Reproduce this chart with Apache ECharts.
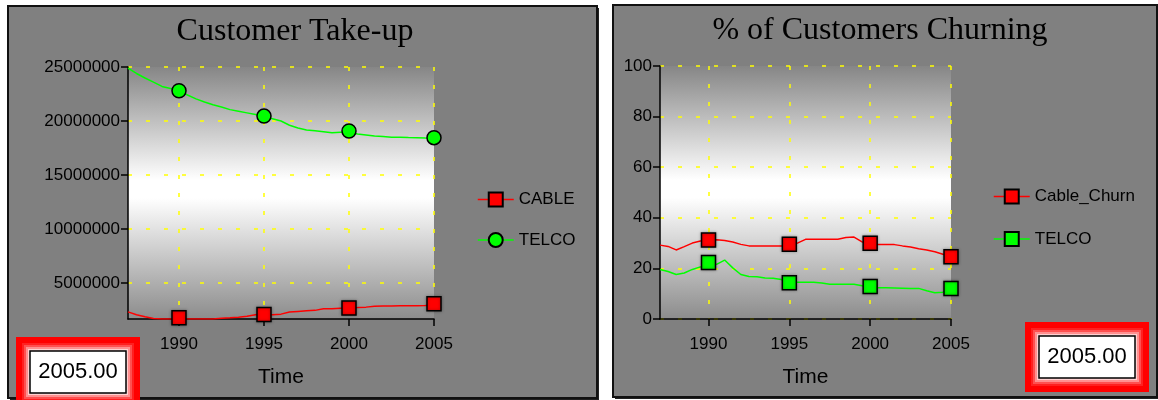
<!DOCTYPE html>
<html>
<head>
<meta charset="utf-8">
<script src="https://cdn.jsdelivr.net/npm/echarts@6/dist/echarts.min.js"></script>
<style>
  html, body { margin: 0; padding: 0; background: #ffffff; }
  #wrap { position: relative; width: 1158px; height: 400px; overflow: hidden; }
  #left { position: absolute; left: 0; top: 0; width: 605px; height: 400px; }
  #right { position: absolute; left: 605px; top: 0; width: 553px; height: 400px; }
</style>
</head>
<body>
<div id="wrap">
  <div id="left"></div>
  <div id="right"></div>
</div>
<script>
// time axis (half years) used by the continuous lines
var halfYears = [1987, 1987.5, 1988, 1988.5, 1989, 1989.5, 1990, 1990.5, 1991, 1991.5,
  1992, 1992.5, 1993, 1993.5, 1994, 1994.5, 1995, 1995.5, 1996, 1996.5,
  1997, 1997.5, 1998, 1998.5, 1999, 1999.5, 2000, 2000.5, 2001, 2001.5,
  2002, 2002.5, 2003, 2003.5, 2004, 2004.5, 2005];
var markerYears = [1990, 1995, 2000, 2005];
var yearTicks = [1990, 1995, 2000, 2005];

// Customer Take-up (customers)
var takeupCableLine = [2310000, 2040000, 1850000, 1700000, 1650000, 1650000, 1650000, 1650000, 1650000, 1650000,
  1650000, 1720000, 1760000, 1820000, 1900000, 2040000, 2080000, 2040000, 2100000, 2290000,
  2350000, 2410000, 2450000, 2590000, 2600000, 2650000, 2700000, 2710000, 2750000, 2840000,
  2850000, 2860000, 2870000, 2870000, 2880000, 2900000, 2950000];
var takeupTelcoLine = [24900000, 24400000, 23980000, 23600000, 23200000, 23000000, 22750000, 22400000, 22050000, 21750000,
  21500000, 21300000, 21050000, 20900000, 20750000, 20600000, 20400000, 20200000, 20000000, 19600000,
  19350000, 19170000, 19100000, 19000000, 18900000, 18950000, 18950000, 18800000, 18700000, 18600000,
  18550000, 18500000, 18480000, 18460000, 18450000, 18420000, 18400000];
var takeupCableMarks = [1760000, 2060000, 2660000, 3070000];
var takeupTelcoMarks = [22800000, 20450000, 19070000, 18450000];
var takeupTicks = [5000000, 10000000, 15000000, 20000000, 25000000];

// % of Customers Churning
var churnCableLine = [29.2, 28.7, 27.3, 28.6, 30.0, 30.8, 30.8, 31.3, 31.0, 30.4,
  29.5, 28.9, 28.9, 28.9, 28.9, 28.9, 28.9, 30.0, 31.5, 31.5,
  31.5, 31.5, 31.5, 32.2, 32.4, 30.5, 29.4, 29.4, 29.4, 29.4,
  28.9, 28.5, 27.8, 27.3, 26.6, 25.6, 24.8];
var churnTelcoLine = [19.6, 18.8, 17.6, 18.2, 19.6, 20.6, 21.0, 21.6, 23.3, 20.2,
  17.6, 16.8, 16.7, 16.2, 16.1, 15.6, 14.5, 14.5, 14.5, 14.5,
  14.2, 13.7, 13.7, 13.7, 13.7, 13.1, 12.4, 12.4, 12.4, 12.3,
  12.2, 12.1, 12.1, 11.2, 10.4, 10.6, 12.0];
var churnCableMarks = [31.2, 29.5, 29.9, 24.6];
var churnTelcoMarks = [22.3, 14.3, 12.8, 12.1];
var churnTicks = [0, 20, 40, 60, 80, 100];

var valueText = '2005.00';

var SANS = 'Liberation Sans, Arial, sans-serif';
var SERIF = 'Liberation Serif, Times New Roman, serif';
var RED = '#ff0000';
var GREEN = '#00ff00';

function pairs(xs, ys) {
  return xs.map(function (x, i) { return [x, ys[i]]; });
}

function plain(v) { return String(v); }

function plotBackground() {
  return {
    type: 'linear', x: 0, y: 0, x2: 0, y2: 1,
    colorStops: [
      { offset: 0, color: '#868686' },
      { offset: 0.45, color: '#ffffff' },
      { offset: 0.52, color: '#ffffff' },
      { offset: 1, color: '#8c8c8c' }
    ]
  };
}

function xAxisOpt() {
  return {
    type: 'value', min: 1987, max: 2005,
    name: 'Time', nameLocation: 'middle', nameGap: 48,
    nameTextStyle: { fontFamily: SANS, fontSize: 21, color: '#000' },
    axisLine: { onZero: false, lineStyle: { color: '#000', width: 1.5 } },
    axisTick: { customValues: yearTicks, length: 7, lineStyle: { color: '#000', width: 1.5 } },
    axisLabel: { customValues: yearTicks, margin: 17, fontFamily: SANS, fontSize: 17, color: '#000', formatter: plain },
    splitLine: { show: true, customValues: yearTicks, lineStyle: { color: '#ffff00', width: 1.5, type: [4, 14] } }
  };
}

function yAxisOpt(min, max, ticks, margin) {
  return {
    type: 'value', min: min, max: max,
    axisLine: { show: true, lineStyle: { color: '#000', width: 1.5 } },
    axisTick: { show: true, customValues: ticks, length: 7, lineStyle: { color: '#000', width: 1.5 } },
    axisLabel: { customValues: ticks, margin: margin, fontFamily: SANS, fontSize: 17, color: '#000', formatter: plain },
    splitLine: { show: true, customValues: ticks, lineStyle: { color: '#ffff00', width: 1.5, type: [4, 14] } }
  };
}

function lineSeries(name, data, color) {
  return {
    name: name, type: 'line', data: data, symbol: 'none', silent: true,
    lineStyle: { color: color, width: 1.5 }, z: 3
  };
}

function markSeries(name, data, color, symbol) {
  return {
    name: name, type: 'line', data: data, symbol: symbol, symbolSize: 14, silent: true,
    showAllSymbol: true,
    lineStyle: { color: 'rgba(0,0,0,0)', width: 1.5 },
    itemStyle: {
      color: color, borderColor: '#000', borderWidth: 1.5,
      shadowColor: symbol === 'rect' ? 'rgba(0,0,0,0.35)' : 'rgba(0,0,0,0)', shadowBlur: 3
    },
    z: 5
  };
}

// framed value box in the corner
function valueBox(x, y) {
  var w = 124, h = 70;
  var bands = ['#ff0000', '#ff2020', '#ff5050', '#ff9090', '#ffd0d0'];
  var els = [];
  bands.forEach(function (c, i) {
    var d = i === 0 ? 0 : 4 + i * 2;
    els.push({ type: 'rect', silent: true, shape: { x: x + d, y: y + d, width: w - 2 * d, height: h - 2 * d }, style: { fill: c } });
  });
  els.push({ type: 'rect', silent: true, shape: { x: x + 14, y: y + 14, width: w - 28, height: h - 28 },
    style: { fill: '#ffffff', stroke: '#000', lineWidth: 1.5 } });
  els.push({ type: 'text', silent: true, style: { x: x + w / 2, y: y + h / 2, text: valueText, font: '22px ' + SANS, fill: '#000', align: 'center', verticalAlign: 'middle' } });
  return els;
}

function panel(x, y, w, h, title, titleX, titleY) {
  return [
    { type: 'rect', silent: true, z: -10, shape: { x: x + 2, y: y + 2, width: w, height: h }, style: { fill: '#222' } },
    { type: 'rect', silent: true, z: -9, shape: { x: x, y: y, width: w, height: h }, style: { fill: '#808080', stroke: '#111', lineWidth: 2 } },
    { type: 'text', silent: true, style: { x: titleX, y: titleY, text: title, font: '32px ' + SERIF, fill: '#000', align: 'center', verticalAlign: 'middle' } }
  ];
}

function legendOpt(left, top, gap, items) {
  return {
    orient: 'vertical', left: left, top: top, padding: 0, itemWidth: 36, itemHeight: 17.5, itemGap: gap,
    selectedMode: false,
    textStyle: { fontFamily: SANS, fontSize: 17, color: '#000' },
    data: items.map(function (it) {
      return { name: it[0], lineStyle: { color: it[1], width: 1.5, opacity: 1 } };
    })
  };
}

var left = echarts.init(document.getElementById('left'), null, { renderer: 'canvas' });
left.setOption({
  animation: false,
  grid: { left: 128, top: 67, width: 306, height: 252, show: true, backgroundColor: plotBackground(), borderWidth: 0 },
  xAxis: xAxisOpt(),
  yAxis: yAxisOpt(1650000, 25000000, takeupTicks, 8),
  legend: legendOpt(477, 191, 23.5, [['CABLE', RED], ['TELCO', GREEN]]),
  graphic: { elements: panel(8, 6, 589, 392, 'Customer Take-up', 295, 32).concat(valueBox(16, 337)) },
  series: [
    lineSeries('cable line', pairs(halfYears, takeupCableLine), RED),
    lineSeries('telco line', pairs(halfYears, takeupTelcoLine), GREEN),
    markSeries('CABLE', pairs(markerYears, takeupCableMarks), RED, 'rect'),
    markSeries('TELCO', pairs(markerYears, takeupTelcoMarks), GREEN, 'circle')
  ]
});

var right = echarts.init(document.getElementById('right'), null, { renderer: 'canvas' });
right.setOption({
  animation: false,
  grid: { left: 55, top: 66, width: 291, height: 253, show: true, backgroundColor: plotBackground(), borderWidth: 0 },
  xAxis: xAxisOpt(),
  yAxis: yAxisOpt(0, 100, churnTicks, 8),
  legend: legendOpt(388, 188, 25.5, [['Cable_Churn', RED], ['TELCO', GREEN]]),
  graphic: { elements: panel(8, 5, 544, 392, '% of Customers Churning', 275, 31).concat(valueBox(420, 322)) },
  series: [
    lineSeries('cable churn line', pairs(halfYears, churnCableLine), RED),
    lineSeries('telco churn line', pairs(halfYears, churnTelcoLine), GREEN),
    markSeries('Cable_Churn', pairs(markerYears, churnCableMarks), RED, 'rect'),
    markSeries('TELCO', pairs(markerYears, churnTelcoMarks), GREEN, 'rect')
  ]
});
</script>
</body>
</html>
